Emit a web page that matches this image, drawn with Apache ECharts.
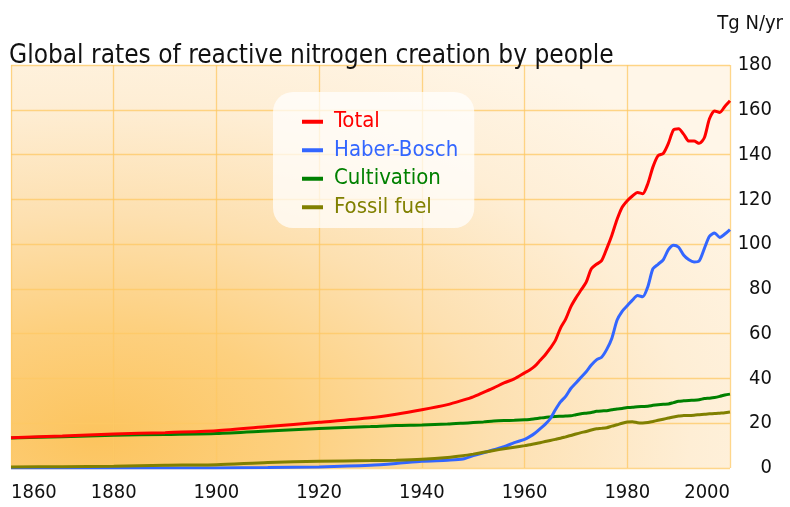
<!DOCTYPE html>
<html>
<head>
<meta charset="utf-8">
<script src="https://cdn.jsdelivr.net/npm/echarts@6/dist/echarts.min.js"></script>
<style>
html,body{margin:0;padding:0;background:#fff;}
#chart{width:790px;height:507px;}
</style>
</head>
<body>
<div id="chart"></div>
<script>
// ---- data ----
const years = [1860,1870,1880,1890,1900,1910,1920,1930,1935,1940,1945,1948,1950,1952,1954,1956,1958,
  1960,1961,1962,1963,1964,1965,1966,1967,1968,1969,1970,1971,1972,1973,1974,1975,1976,1977,1978,1979,
  1980,1981,1982,1983,1984,1985,1986,1987,1988,1989,1990,1991,1992,1993,1994,1995,1996,1997,1998,1999,2000];

const total = [13.5,14.3,15.2,15.8,16.6,18.5,20.4,22.4,24,26,28.3,30.3,31.8,33.8,35.8,38,39.8,
  42.5,43.8,45.5,48,50.5,53.5,57,62.5,66.5,72,76,79.5,83,89,91,92.6,98,104,111,116.5,
  119.4,121.5,123.1,122.5,127,134.5,139.5,140.5,145,151,151.5,149,146,146,145,147.5,156,159.5,158.8,161.5,164];

const haberBosch = [0,0,0,0,0,0.2,0.5,1.2,2,3,3.5,4,5.5,6.8,8.2,9.5,11.3,
  12.8,14,15.5,17.5,19.5,22,26,29.5,32,35.5,38,40.5,43,46,48.3,49.5,53,58,66,70,
  72.5,75,77,76.5,81,89,91,93,97.5,99.5,98.6,95,93,92,92.5,98,103.5,105,103,104.5,106.5];

const cultivation = [13.4,14,14.6,15,15.4,16.5,17.6,18.5,19,19.2,19.6,20,20.3,20.6,21,21.2,21.3,
  21.5,21.7,22,22.3,22.6,22.8,23,23.1,23.2,23.3,23.8,24.2,24.5,24.8,25.3,25.5,25.6,26,26.4,26.6,
  27,27.1,27.4,27.5,27.6,28,28.3,28.5,28.6,29.2,29.8,30,30.2,30.3,30.5,31,31.2,31.5,32,32.6,33];

const fossilFuel = [0.4,0.6,0.8,1.2,1.5,2.5,3,3.3,3.5,3.9,4.7,5.5,6.2,7,7.8,8.6,9.3,
  10,10.4,10.8,11.3,11.8,12.3,12.8,13.3,13.9,14.5,15.2,15.8,16.3,17,17.5,17.7,18,18.7,19.3,20,
  20.5,20.7,20.2,20.1,20.3,20.8,21.3,21.8,22.3,22.8,23.2,23.5,23.5,23.6,23.8,24,24.2,24.3,24.5,24.7,25];

const yTicks = [0,20,40,60,80,100,120,140,160,180];
const xTicks = [1860,1880,1900,1920,1940,1960,1980,2000];
const seriesNames = ['Total','Haber-Bosch','Cultivation','Fossil fuel'];
const titleText = 'Global rates of reactive nitrogen creation by people';
const unitText = 'Tg N/yr';

// ---- chart ----
const FONT = "'Liberation Sans Narrow','DejaVu Sans Condensed','Liberation Sans',sans-serif";
const colors = {'Total':'#ff0000','Haber-Bosch':'#3366ff','Cultivation':'#008000','Fossil fuel':'#808000'};
const pairs = arr => years.map((y,i)=>[y,arr[i]]);

const chart = echarts.init(document.getElementById('chart'), null, {renderer:'canvas'});
const gL = 11, gT = 65, gW = 719, gH = 403;

function mk(name, arr){
  return {
    name, type:'line', data:pairs(arr), showSymbol:false, smooth:0.25,
    lineStyle:{color:colors[name], width:3}, itemStyle:{color:colors[name]}, z:3
  };
}

chart.setOption({
  animation:false,
  textStyle:{fontFamily:FONT},
  title:[
    {text:titleText, left:9, top:43, padding:0,
     textStyle:{fontFamily:FONT, fontSize:26, fontWeight:'normal', color:'#111'}},
    {text:unitText, right:7, top:14, padding:0,
     textStyle:{fontFamily:FONT, fontSize:20, fontWeight:'normal', color:'#111'}}
  ],
  graphic:[{
    type:'rect', x:gL, y:gT, scaleX:gW/gH, z:-10, silent:true,
    shape:{x:0,y:0,width:gH,height:gH},
    style:{fill:new echarts.graphic.RadialGradient(0.12,0.92,1.1,[
      {offset:0,color:'#fcc45e'},
      {offset:0.25,color:'#fdd07f'},
      {offset:0.5,color:'#fde0b0'},
      {offset:0.75,color:'#feeed5'},
      {offset:1,color:'#fff6e8'}])}
  }],
  legend:{
    orient:'vertical', left:273, top:92,
    padding:[17,16,8,29],
    backgroundColor:'rgba(255,255,255,0.72)', borderRadius:20,
    icon:'rect', itemWidth:21, itemHeight:4, itemGap:3,
    textStyle:{fontFamily:FONT, fontSize:22, lineHeight:25.5, padding:[0,0,0,6]},
    data:seriesNames.map(n=>({name:n, textStyle:{color:colors[n]}}))
  },
  grid:{left:gL, top:gT, width:gW, height:gH, containLabel:false},
  xAxis:{
    type:'value', min:1860, max:2000, interval:20,
    axisLine:{show:false}, axisTick:{show:false},
    splitLine:{show:true, lineStyle:{color:'rgba(253,200,100,0.75)', width:1.3}},
    axisLabel:{fontFamily:FONT, fontSize:20, color:'#111', margin:15,
      alignMinLabel:'left', alignMaxLabel:'right',
      formatter:v=>xTicks.includes(v)?String(v):''}
  },
  yAxis:{
    type:'value', position:'right', min:0, max:180, interval:20,
    axisLine:{show:false}, axisTick:{show:false},
    splitLine:{show:true, lineStyle:{color:'rgba(253,200,100,0.75)', width:1.3}},
    axisLabel:{fontFamily:FONT, fontSize:20, color:'#111', margin:42, align:'right',
      padding:[0,0,7,0],
      formatter:v=>yTicks.includes(v)?String(v):''}
  },
  series:[
    mk('Cultivation', cultivation),
    mk('Haber-Bosch', haberBosch),
    mk('Fossil fuel', fossilFuel),
    mk('Total', total)
  ]
});
</script>
</body>
</html>
